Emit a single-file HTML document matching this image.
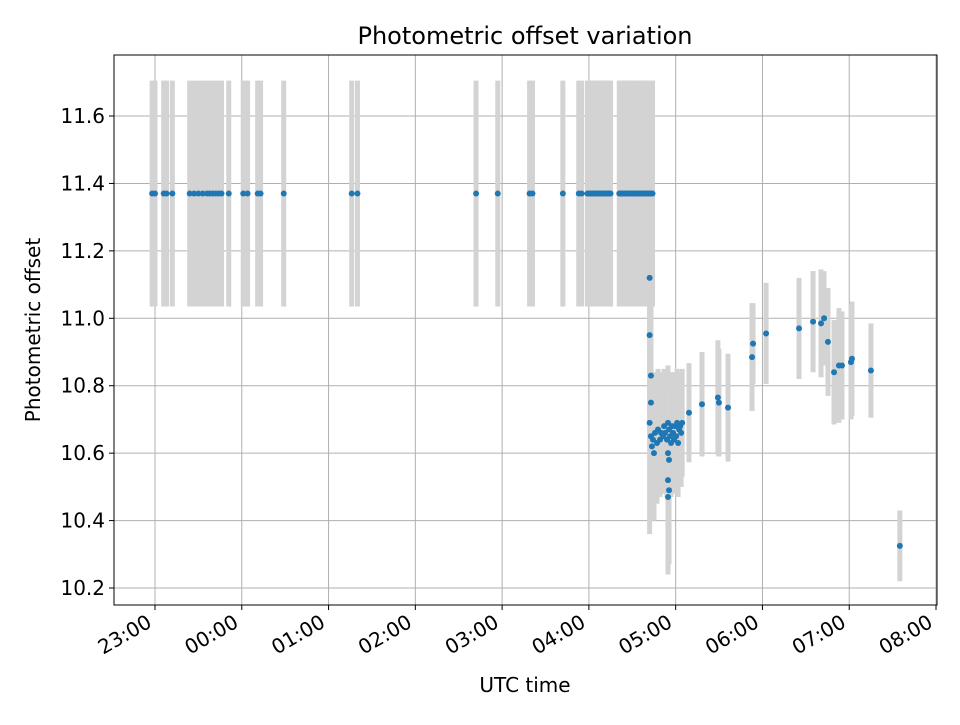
<!DOCTYPE html>
<html><head><meta charset="utf-8"><style>
body{margin:0;background:#fff;font-family:"Liberation Sans",sans-serif}
svg text{font-family:"DejaVu Sans","Liberation Sans",sans-serif}
</style></head><body>
<svg id="chart" width="960" height="720" viewBox="0 0 960 720" xmlns="http://www.w3.org/2000/svg">
<rect width="960" height="720" fill="#fff"/>
<text x="525" y="44" text-anchor="middle" font-size="24">Photometric offset variation</text>
<text x="525" y="692" text-anchor="middle" font-size="20">UTC time</text>
<text transform="translate(40,330) rotate(-90)" text-anchor="middle" font-size="20">Photometric offset</text>
<g id="grid"></g>
<g id="errs"></g>
<g id="pts"></g>
<g id="axes"></g>
</svg>
<script>
const times = ["22:58","23:00","23:06","23:08","23:12","23:24","23:27","23:30","23:33","23:36","23:38","23:40","23:42","23:44","23:46","23:51","00:01","00:04","00:11","00:13","00:29","01:16","01:20","02:42","02:57","03:19","03:21","03:42","03:53","03:55",
"03:59","04:00","04:01","04:02","04:03","04:04","04:05","04:06","04:07","04:08","04:09","04:10","04:11","04:12","04:13","04:14","04:15",
"04:21","04:22","04:23","04:24","04:25","04:26","04:27","04:28","04:29","04:30","04:31","04:32","04:33","04:34","04:35","04:36","04:37","04:38","04:39","04:40","04:41","04:42","04:43","04:44",
"04:42","04:42","04:42.9","04:42.9","04:42","04:42.9","04:43.6","04:44.3","04:45","04:45.7","04:47.1","04:47.8","04:49.2","04:49.9","04:51.3","04:52","04:52.6","04:54","04:54.7","04:55.4","04:56.1","04:56.8","04:57.5","04:58.2","04:58.9","04:59.6","05:00.3","05:01","05:01.7","05:02.4","05:03.1","05:03.8","05:04.5",
"04:54.7","04:55.4","04:54.7","04:55.4","04:54.7",
"05:09.2","05:18.2","05:29.2","05:29.9","05:36.2","05:52.8","05:53.5","06:02.5","06:25.3","06:35","06:40.5","06:42.6","06:45.3","06:49.5","06:52.9","06:55","07:01.2","07:01.9","07:15","07:35"];
const values = [11.37,11.37,11.37,11.37,11.37,11.37,11.37,11.37,11.37,11.37,11.37,11.37,11.37,11.37,11.37,11.37,11.37,11.37,11.37,11.37,11.37,11.37,11.37,11.37,11.37,11.37,11.37,11.37,11.37,11.37,
11.37,11.37,11.37,11.37,11.37,11.37,11.37,11.37,11.37,11.37,11.37,11.37,11.37,11.37,11.37,11.37,11.37,
11.37,11.37,11.37,11.37,11.37,11.37,11.37,11.37,11.37,11.37,11.37,11.37,11.37,11.37,11.37,11.37,11.37,11.37,11.37,11.37,11.37,11.37,11.37,11.37,
11.12,10.95,10.83,10.75,10.69,10.65,10.62,10.64,10.60,10.66,10.63,10.67,10.64,10.66,10.65,10.68,10.66,10.64,10.69,10.67,10.65,10.63,10.68,10.66,10.64,10.68,10.65,10.69,10.63,10.67,10.68,10.66,10.69,
10.60,10.58,10.52,10.49,10.47,
10.72,10.745,10.765,10.75,10.735,10.885,10.925,10.955,10.97,10.99,10.985,11.0,10.93,10.84,10.86,10.86,10.87,10.88,10.845,10.325];
const errors = [0.335,0.335,0.335,0.335,0.335,0.335,0.335,0.335,0.335,0.335,0.335,0.335,0.335,0.335,0.335,0.335,0.335,0.335,0.335,0.335,0.335,0.335,0.335,0.335,0.335,0.335,0.335,0.335,0.335,0.335,
0.335,0.335,0.335,0.335,0.335,0.335,0.335,0.335,0.335,0.335,0.335,0.335,0.335,0.335,0.335,0.335,0.335,
0.335,0.335,0.335,0.335,0.335,0.335,0.335,0.335,0.335,0.335,0.335,0.335,0.335,0.335,0.335,0.335,0.335,0.335,0.335,0.335,0.335,0.335,0.335,0.335,
0.33,0.3,0.3,0.3,0.33,0.2,0.22,0.2,0.2,0.18,0.18,0.18,0.17,0.18,0.17,0.17,0.17,0.17,0.17,0.16,0.17,0.16,0.16,0.16,0.16,0.16,0.16,0.16,0.16,0.16,0.16,0.16,0.16,
0.2,0.2,0.22,0.22,0.23,
0.147,0.155,0.17,0.16,0.16,0.16,0.12,0.15,0.15,0.15,0.16,0.14,0.16,0.155,0.17,0.16,0.17,0.17,0.14,0.105];
const yTicks = [10.2,10.4,10.6,10.8,11.0,11.2,11.4,11.6];
const xTickLabels = ["23:00","00:00","01:00","02:00","03:00","04:00","05:00","06:00","07:00","08:00"];

const L=114,R=937,T=55,B=605;
const XMIN=22.5275, XMAX=32.0115, YMIN=10.1496, YMAX=11.781;
function hrs(s){const p=s.split(":");let h=parseFloat(p[0]);if(h<12)h+=24;return h+parseFloat(p[1])/60;}
function X(h){return L+(h-XMIN)/(XMAX-XMIN)*(R-L);}
function Y(v){return B-(v-YMIN)/(YMAX-YMIN)*(B-T);}
const NS="http://www.w3.org/2000/svg";
function mk(tag,parent,attrs){const e=document.createElementNS(NS,tag);for(const k in attrs)e.setAttribute(k,attrs[k]);document.getElementById(parent).appendChild(e);return e;}
yTicks.forEach(v=>{
  const g=mk("line","grid",{x1:L,x2:R,y1:Y(v),y2:Y(v),stroke:"#b0b0b0","stroke-width":1});
  
  
  const t=mk("line","axes",{x1:L-5,x2:L,y1:Y(v),y2:Y(v),stroke:"#000"});
  
  
  const lb=mk("text","axes",{x:L-9,y:Y(v)+7,"text-anchor":"end","font-size":"20"});
  lb.textContent=v.toFixed(1);
  
  
});
xTickLabels.forEach(s=>{
  const x=X(hrs(s));
  const g=mk("line","grid",{x1:x,x2:x,y1:T,y2:B,stroke:"#b0b0b0","stroke-width":1});
  
  
  const t=mk("line","axes",{x1:x,x2:x,y1:B,y2:B+5,stroke:"#000"});
  
  
  const lb=mk("text","axes",{transform:`translate(${x-2},${B+21}) rotate(-30)`,"text-anchor":"end","font-size":"20"});
  lb.textContent=s;
  
  
});
times.forEach((s,i)=>{
  const x=X(hrs(s));
  const e=mk("line","errs",{x1:x,x2:x,y1:Y(values[i]+errors[i]),y2:Y(values[i]-errors[i]),stroke:"#d3d3d3","stroke-width":5});
  
  
});
times.forEach((s,i)=>{
  const c=mk("circle","pts",{cx:X(hrs(s)),cy:Y(values[i]),r:3,fill:"#1f77b4"});
  
  
});
const fr=mk("rect","axes",{x:L,y:T,width:R-L,height:B-T,fill:"none",stroke:"#000","stroke-width":1});


</script>
</body></html>
